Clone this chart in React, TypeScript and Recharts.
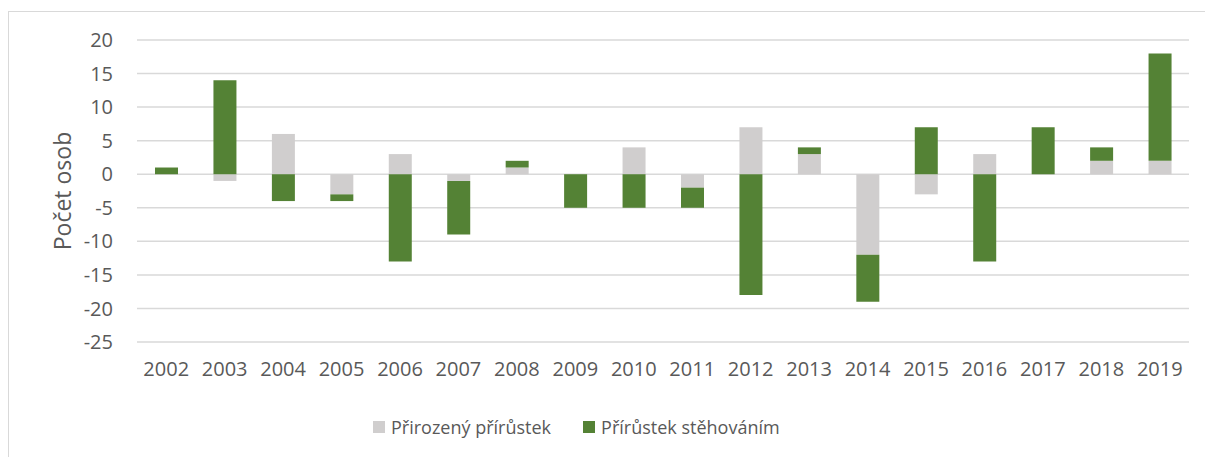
import { BarChart, Bar, XAxis, YAxis, CartesianGrid, Legend, Label } from 'recharts'

const years = ['2002', '2003', '2004', '2005', '2006', '2007', '2008', '2009', '2010',
    '2011', '2012', '2013', '2014', '2015', '2016', '2017', '2018', '2019']
const naturalIncrease = [0, -1, 6, -3, 3, -1, 1, 0, 4, -2, 7, 3, -12, -3, 3, 0, 2, 2]
const migrationIncrease = [1, 14, -4, -1, -13, -8, 1, -5, -5, -3, -18, 1, -7, 7, -13, 7, 2, 16]
const yTicks = [-25, -20, -15, -10, -5, 0, 5, 10, 15, 20]

const grayColor = '#D0CECE'
const greenColor = '#548235'
const textColor = '#595959'
const font = '"Open Sans", sans-serif'

const data = years.map((year, i) => ({
    year,
    natural: naturalIncrease[i],
    migration: migrationIncrease[i],
}))

// legend drawn by hand so it sits where Excel put it (left of centre)
const LegendContent = () => (
    <div style={{ height: 24, display: 'flex', alignItems: 'center', paddingLeft: 373, fontFamily: font, fontSize: 18, color: textColor }}>
        <div style={{ display: 'flex', alignItems: 'center', gap: 6 }}>
            <div style={{ width: 12, height: 12, background: grayColor }} />
            <span>Přirozený přírůstek</span>
        </div>
        <div style={{ display: 'flex', alignItems: 'center', gap: 6, marginLeft: 32 }}>
            <div style={{ width: 12, height: 12, background: greenColor }} />
            <span>Přírůstek stěhováním</span>
        </div>
    </div>
)

export default function App() {
    return (
        <div style={{ position: 'relative', width: 1205, height: 457, background: '#fff' }}>
            <style>{'body{margin:0;overflow:hidden}'}</style>
            <div style={{ position: 'absolute', left: 8, top: 11, width: 1197, height: 446, borderLeft: '1px solid #D9D9D9', borderTop: '1px solid #D9D9D9' }} />
            <BarChart
                width={1205}
                height={457}
                data={data}
                stackOffset="sign"
                margin={{ top: 40, right: 16, left: 0, bottom: 18 }}
                style={{ position: 'absolute', left: 0, top: 0 }}
            >
                <CartesianGrid vertical={false} stroke="#D9D9D9" strokeWidth={1.5} />
                <XAxis
                    dataKey="year"
                    height={73}
                    axisLine={false}
                    tickLine={false}
                    tickSize={0}
                    tickMargin={20}
                    interval={0}
                    tick={{ fill: textColor, fontSize: 20, fontFamily: font }}
                />
                <YAxis
                    width={137}
                    domain={[-25, 20]}
                    ticks={yTicks}
                    axisLine={false}
                    tickLine={false}
                    tickSize={0}
                    tickMargin={24}
                    tick={{ fill: textColor, fontSize: 20, fontFamily: font }}
                >
                    <Label
                        content={({ viewBox }: any) => {
                            const cy = viewBox.y + viewBox.height / 2
                            return (
                                <text x={62} y={cy} transform={`rotate(-90 62 ${cy})`} textAnchor="middle" dominantBaseline="central" fill={textColor} fontSize={23} fontFamily={font}>
                                    Počet osob
                                </text>
                            )
                        }}
                    />
                </YAxis>
                <Legend verticalAlign="bottom" content={<LegendContent />} />
                <Bar dataKey="natural" name="Přirozený přírůstek" stackId="a" fill={grayColor} barSize={23} isAnimationActive={false} />
                <Bar dataKey="migration" name="Přírůstek stěhováním" stackId="a" fill={greenColor} barSize={23} isAnimationActive={false} />
            </BarChart>
        </div>
    )
}
